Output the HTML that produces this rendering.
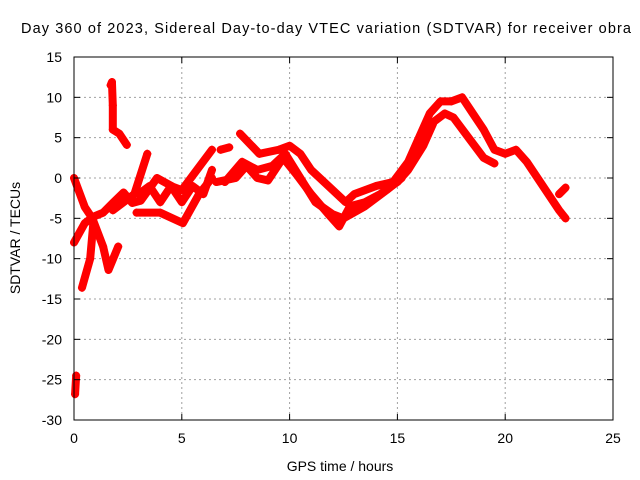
<!DOCTYPE html>
<html><head><meta charset="utf-8"><style>
body{margin:0;background:#fff}
svg{display:block;font-family:"Liberation Sans",sans-serif}
</style></head><body>
<svg id="chart" width="640" height="480" viewBox="0 0 640 480">
<text x="21" y="33" font-size="14.5" textLength="610" lengthAdjust="spacing" fill="#000">Day 360 of 2023, Sidereal Day-to-day VTEC variation (SDTVAR) for receiver obra</text>
<g id="grid"></g>
<g id="series"></g>
<rect x="74" y="57" width="539" height="363" fill="none" stroke="#000" stroke-width="1"/>
<g id="axes"></g>
<text transform="translate(20,238) rotate(-90)" text-anchor="middle" font-size="14">SDTVAR / TECUs</text>
<text x="340" y="471" text-anchor="middle" font-size="14">GPS time / hours</text>
</svg>
<script>
const xTicks=[0,5,10,15,20,25];
const yTicks=[-30,-25,-20,-15,-10,-5,0,5,10,15];
const trackA=[[0,0],[0.5,-3.6],[0.85,-5],[1.35,-8.5],[1.6,-11.4],[2.05,-8.5]];
const trackB=[[0,-8],[0.5,-5.6],[0.9,-4.8],[1.35,-4.3],[1.8,-3.1],[2.3,-1.8],[2.7,-3.1],[3.1,-2.8],[3.85,0],[4.6,-1.1],[5,-1.5],[5.7,1],[6.4,3.5]];
const trackC=[[2.9,-4.3],[4,-4.3],[5.05,-5.6],[5.8,-2],[6.4,0]];
const trackM=[[3,-2],[3.5,-1],[4,-3],[4.5,-1],[5,-3],[5.5,-1],[6,-2],[6.4,1]];
const trackD=[[0.37,-13.6],[0.75,-10],[0.9,-5.5]];
const trackE=[[1.7,11.5],[1.76,11.9],[1.8,9],[1.8,6],[2.1,5.5],[2.45,4.1]];
const trackF=[[1.8,-4],[2.8,-2],[3.4,3]];
const trackG=[[0.05,-26.8],[0.1,-24.5]];
const trackH=[[7.7,5.5],[8.6,3],[9.5,3.5],[10,4],[10.5,3],[11,1],[12,-1.5],[12.6,-3],[13,-2],[14,-1],[14.8,-0.5],[15.5,2],[16,5],[16.5,8],[17,9.5],[17.5,9.5],[18,10],[18.5,8],[19,6],[19.5,3.5],[20,3],[20.5,3.5],[21,2],[21.5,0],[22,-2],[22.5,-4],[22.8,-5]];
const trackI=[[6.6,-0.5],[7.5,0],[8,1.5],[8.5,0],[9,-0.3],[9.7,2.5],[10.3,0.5],[11,-2],[11.8,-4.5],[12.3,-6],[12.8,-3.5],[13.5,-3],[14.2,-2],[15,-0.5],[15.5,1],[16.2,4],[16.7,7],[17.2,8],[17.6,7.5],[18.3,5],[19,2.5],[19.5,1.8]];
const trackJ=[[7,-0.5],[7.8,2],[8.5,1],[9.2,1.5],[9.8,3],[10.5,0],[11.2,-3],[12,-4.5],[12.5,-5],[13.5,-3.5],[14.5,-1.5],[15.2,0]];
const trackK=[[6.8,3.5],[7.2,3.8]];
const trackL=[[22.5,-2],[22.8,-1.2]];
const tracks=[trackA,trackB,trackC,trackM,trackD,trackE,trackF,trackG,trackH,trackI,trackJ,trackK,trackL];
const NS='http://www.w3.org/2000/svg';
const X0=74,X1=613,Y0=420,Y1=57;
function px(h){return X0+(h-0)/(25-0)*(X1-X0);}
function py(v){return Y0-(v+30)/(45)*(Y0-Y1);}
function mk(t,a,p){const e=document.createElementNS(NS,t);for(const k in a)e.setAttribute(k,a[k]);p.appendChild(e);return e;}
const grid=document.getElementById('grid'),axes=document.getElementById('axes'),ser=document.getElementById('series');
xTicks.forEach(t=>{const x=px(t);
 if(t>0&&t<25){const l=mk('line',{x1:x,x2:x,y1:Y1,y2:Y0,stroke:'#a0a0a0','stroke-dasharray':'2,3'},grid);
 
 }
 mk('line',{x1:x,x2:x,y1:Y0,y2:Y0-6,stroke:'#000'},axes);mk('line',{x1:x,x2:x,y1:Y1,y2:Y1+6,stroke:'#000'},axes);
 const tx=mk('text',{x:x,y:Y0+23,'text-anchor':'middle','font-size':'14'},axes);tx.textContent=t;
 
 });
yTicks.forEach(t=>{const y=py(t);
 if(t>-30&&t<15){const l=mk('line',{x1:X0,x2:X1,y1:y,y2:y,stroke:'#a0a0a0','stroke-dasharray':'2,3'},grid);
 
 }
 mk('line',{x1:X0,x2:X0+6,y1:y,y2:y,stroke:'#000'},axes);mk('line',{x1:X1,x2:X1-6,y1:y,y2:y,stroke:'#000'},axes);
 const tx=mk('text',{x:X0-12,y:y+5,'text-anchor':'end','font-size':'14'},axes);tx.textContent=t;
 
 });
tracks.forEach(tr=>{
 const pl=mk('polyline',{points:tr.map(p=>px(p[0])+','+py(p[1])).join(' '),fill:'none',stroke:'#f00','stroke-width':'8','stroke-linejoin':'round','stroke-linecap':'round'},ser);
 
 
 tr.forEach(p=>{const x=px(p[0]),y=py(p[1]);
  const m=mk('path',{d:`M${x-4},${y}H${x+4}M${x},${y-4}V${y+4}`,stroke:'#f00','stroke-width':'1.5'},ser);
  
  });
});
</script>
</body></html>
